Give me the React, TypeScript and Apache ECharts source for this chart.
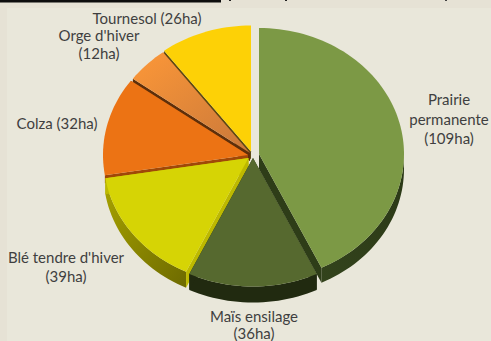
import React, { useEffect, useRef } from "react";
import * as echarts from "echarts";

// Surface par culture (ha)
const cultures = ["Prairie permanente", "Maïs ensilage", "Blé tendre d'hiver", "Colza", "Orge d'hiver", "Tournesol"];
const hectares = [109, 36, 39, 32, 12, 26];
const labelLines = [
  ["Prairie", "permanente", "(109ha)"],
  ["Maïs ensilage", "(36ha)"],
  ["Blé tendre d'hiver", "(39ha)"],
  ["Colza (32ha)"],
  ["Orge d'hiver", "(12ha)"],
  ["Tournesol (26ha)"],
];

// Back-to-front painting order of the slices
const paintOrder = [5, 4, 3, 2, 0, 1];

const RX = 145;
const RY = 126;
const W = 491;
const H = 341;

const grad = (x: number, y: number, x2: number, y2: number, a: string, b: string) =>
  new echarts.graphic.LinearGradient(x, y, x2, y2, [
    { offset: 0, color: a },
    { offset: 1, color: b },
  ]);

// Apex of each pulled-out slice, its size and its colours
const apex: [number, number][] = [
  [259, 154],
  [253, 158],
  [248.5, 158],
  [248, 155],
  [250, 153],
  [251, 151.5],
];
const radiusScale = [1, 1.02, 1, 1, 1, 1];
const depth = [15, 16, 16, 0, 0, 0];
const topFill = [
  "#7c9945",
  "#56692f",
  "#d6d405",
  "#ec7314",
  grad(0.1, 0, 1, 1, "#fa9638", "#c9783a"),
  "#fdd106",
];
const rimFill = [
  grad(0, 1, 1, 0, "#33431c", "#2a3816"),
  "#212a10",
  grad(0, 0, 1, 1, "#a8a300", "#6d6a00"),
  "#a84e08",
  "#7a4a10",
  "#6b5210",
];
const edgeDepth = [15, 16, 16, 8, 8, 8];
const edgeFill = ["#2e3d18", "#212a10", "#bdb900", "#a04808", "#5e2f0a", "#5c4a12"];
const labelPos: [number, number][] = [
  [449, 99],
  [254, 316],
  [66, 257],
  [57, 123],
  [99, 35],
  [147, 18],
];
const lineStep = [19.5, 17, 19, 19, 18, 19];

const total = hectares.reduce((s, v) => s + v, 0);
const startDeg = (i: number) => (hectares.slice(0, i).reduce((s, v) => s + v, 0) / total) * 360;

const renderSlice = (_: unknown, api: any) => {
  const i = api.value(0) as number;
  const a = startDeg(i);
  const b = a + ((api.value(1) as number) / total) * 360;
  const c = apex[i];
  const k = radiusScale[i];

  const rimPoint = (deg: number, dy = 0): number[] => {
    const r = (deg * Math.PI) / 180;
    return [c[0] + k * RX * Math.sin(r), c[1] - k * RY * Math.cos(r) + dy];
  };
  const arcPoints = (from: number, to: number, dy = 0): number[][] => {
    const pts: number[][] = [];
    const n = Math.max(2, Math.ceil((to - from) / 2));
    for (let s = 0; s <= n; s++) pts.push(rimPoint(from + ((to - from) * s) / n, dy));
    return pts;
  };

  const children: any[] = [];
  // Rim wall: only the part of the arc that faces the viewer
  const ra = Math.max(a, 90);
  const rb = Math.min(b, 270);
  if (rb > ra && depth[i] > 0) {
    children.push({
      type: "polygon",
      shape: { points: [...arcPoints(ra, rb), ...arcPoints(ra, rb, depth[i]).reverse()] },
      style: { fill: rimFill[i] },
    });
  }
  // Cut faces on both radial edges
  const d = edgeDepth[i];
  for (const deg of [a, b]) {
    const p = rimPoint(deg);
    children.push({
      type: "polygon",
      shape: { points: [c, p, [p[0], p[1] + d], [c[0], c[1] + d]] },
      style: { fill: edgeFill[i] },
    });
  }
  // Top face
  children.push({
    type: "polygon",
    shape: { points: [c, ...arcPoints(a, b)] },
    style: { fill: topFill[i] },
  });
  return { type: "group", children };
};

const labelElements = labelLines.flatMap((lines, i) =>
  lines.map((line, k) => ({
    type: "text",
    z: 10,
    style: {
      text: line,
      x: labelPos[i][0],
      y: labelPos[i][1] + k * lineStep[i],
      fill: "#3f3f3f",
      font: '15px Lato, "Open Sans", sans-serif',
      textAlign: "center",
      textVerticalAlign: "middle",
    },
  }))
);

export default function App() {
  const ref = useRef<HTMLDivElement>(null);
  useEffect(() => {
    document.body.style.margin = "0";
    const chart = echarts.init(ref.current!, undefined, { renderer: "svg" });
    chart.setOption({
      animation: false,
      backgroundColor: "#e9e7da",
      graphic: [
        { type: "rect", z: 0, shape: { x: 0, y: 0, width: W, height: 8 }, style: { fill: "#e6e2d5" } },
        { type: "rect", z: 0, shape: { x: 0, y: 0, width: 7, height: H }, style: { fill: "#e6e2d5" } },
        { type: "rect", z: 1, shape: { x: 0, y: 0, width: 221, height: 2.5 }, style: { fill: "#0d0d0d" } },
        { type: "rect", z: 1, shape: { x: 229, y: 0, width: 2, height: 1 }, style: { fill: "#222" } },
        { type: "rect", z: 1, shape: { x: 285, y: 0, width: 2, height: 1 }, style: { fill: "#222" } },
        { type: "rect", z: 1, shape: { x: 445, y: 0, width: 2, height: 1 }, style: { fill: "#444" } },
        ...labelElements,
      ],
      series: [
        {
          type: "custom",
          coordinateSystem: "none",
          clip: false,
          renderItem: renderSlice,
          data: paintOrder.map((i) => ({ name: cultures[i], value: [i, hectares[i]] })),
        },
      ],
    });
    return () => chart.dispose();
  }, []);
  return <div ref={ref} style={{ width: W, height: H }} />;
}
